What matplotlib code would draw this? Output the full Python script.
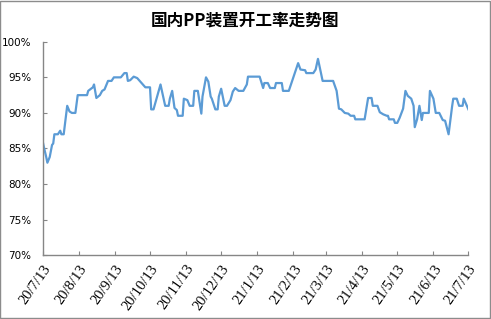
import pandas as pd
import matplotlib
matplotlib.use("Agg")
import matplotlib.pyplot as plt
from matplotlib.ticker import FuncFormatter
from matplotlib.patches import Rectangle

plt.rcParams['font.family'] = ['Noto Sans CJK SC', 'DejaVu Sans']

# PP plant operating rate
dates = ["2020-07-13", "2020-07-14", "2020-07-16", "2020-07-17", "2020-07-19", "2020-07-21",
         "2020-07-22", "2020-07-23", "2020-07-26", "2020-07-28", "2020-07-29", "2020-07-31",
         "2020-08-03", "2020-08-05", "2020-08-07", "2020-08-10", "2020-08-12", "2020-08-20",
         "2020-08-21", "2020-08-25", "2020-08-26", "2020-08-28", "2020-08-31", "2020-09-02",
         "2020-09-04", "2020-09-07", "2020-09-10", "2020-09-12", "2020-09-18", "2020-09-21",
         "2020-09-23", "2020-09-24", "2020-09-26", "2020-09-29", "2020-10-02", "2020-10-09",
         "2020-10-13", "2020-10-14", "2020-10-16", "2020-10-22", "2020-10-26", "2020-10-29",
         "2020-10-30", "2020-11-01", "2020-11-03", "2020-11-05", "2020-11-06", "2020-11-10",
         "2020-11-11", "2020-11-14", "2020-11-16", "2020-11-19", "2020-11-20", "2020-11-23",
         "2020-11-25", "2020-11-26", "2020-11-27", "2020-11-30", "2020-12-02", "2020-12-04",
         "2020-12-05", "2020-12-08", "2020-12-10", "2020-12-11", "2020-12-13", "2020-12-16",
         "2020-12-18", "2020-12-21", "2020-12-23", "2020-12-25", "2020-12-28", "2021-01-01",
         "2021-01-04", "2021-01-05", "2021-01-15", "2021-01-18", "2021-01-19", "2021-01-22",
         "2021-01-24", "2021-01-28", "2021-01-29", "2021-02-03", "2021-02-04", "2021-02-09",
         "2021-02-17", "2021-02-19", "2021-02-23", "2021-02-24", "2021-03-02", "2021-03-04",
         "2021-03-06", "2021-03-10", "2021-03-19", "2021-03-22", "2021-03-24", "2021-03-26",
         "2021-03-29", "2021-04-01", "2021-04-03", "2021-04-06", "2021-04-07", "2021-04-15",
         "2021-04-18", "2021-04-21", "2021-04-22", "2021-04-26", "2021-04-28", "2021-05-01",
         "2021-05-04", "2021-05-05", "2021-05-06", "2021-05-10", "2021-05-11", "2021-05-13",
         "2021-05-15", "2021-05-18", "2021-05-20", "2021-05-22", "2021-05-25", "2021-05-27",
         "2021-05-28", "2021-05-30", "2021-06-01", "2021-06-03", "2021-06-04", "2021-06-09",
         "2021-06-10", "2021-06-13", "2021-06-15", "2021-06-18", "2021-06-21", "2021-06-23",
         "2021-06-26", "2021-06-29", "2021-06-30", "2021-07-03", "2021-07-05", "2021-07-08",
         "2021-07-09", "2021-07-13"]
rate = [86.0, 85.2, 83.8, 83.0, 83.8, 85.5,
        85.7, 87.0, 87.0, 87.5, 87.0, 87.0,
        91.0, 90.2, 90.0, 90.0, 92.5, 92.5,
        93.1, 93.6, 94.0, 92.1, 92.5, 93.1,
        93.3, 94.5, 94.5, 95.0, 95.0, 95.6,
        95.6, 94.5, 94.6, 95.1, 94.9, 93.6,
        93.6, 90.5, 90.5, 94.0, 91.0, 91.0,
        92.0, 93.1, 90.7, 90.4, 89.6, 89.6,
        92.0, 91.8, 91.0, 91.0, 93.1, 93.1,
        91.0, 89.9, 92.3, 95.0, 94.4, 92.3,
        92.0, 90.5, 90.5, 92.3, 93.4, 91.0,
        91.0, 91.8, 93.0, 93.5, 93.1, 93.1,
        94.0, 95.1, 95.1, 93.5, 94.2, 94.2,
        93.5, 93.5, 94.2, 94.2, 93.1, 93.1,
        97.0, 96.1, 96.0, 95.6, 95.6, 96.1,
        97.6, 94.5, 94.5, 93.1, 90.6, 90.5,
        90.0, 89.9, 89.6, 89.6, 89.1, 89.1,
        92.1, 92.1, 91.0, 91.0, 90.1, 89.8,
        89.6, 89.6, 89.1, 89.1, 88.6, 88.6,
        89.3, 90.6, 93.1, 92.4, 92.0, 91.0,
        88.0, 89.1, 91.0, 89.0, 90.0, 90.0,
        93.1, 92.0, 90.0, 90.0, 89.0, 88.9,
        87.0, 90.9, 92.0, 92.0, 91.0, 91.0,
        92.0, 90.5]

tick_dates = ["2020-07-13", "2020-08-13", "2020-09-13", "2020-10-13", "2020-11-13",
              "2020-12-13", "2021-01-13", "2021-02-13", "2021-03-13", "2021-04-13",
              "2021-05-13", "2021-06-13", "2021-07-13"]
tick_labels = ["20/7/13", "20/8/13", "20/9/13", "20/10/13", "20/11/13", "20/12/13",
               "21/1/13", "21/2/13", "21/3/13", "21/4/13", "21/5/13", "21/6/13", "21/7/13"]
y_ticks = [70, 75, 80, 85, 90, 95, 100]

x = pd.to_datetime(dates)
xt = pd.to_datetime(tick_dates)

fig = plt.figure(figsize=(4.91, 3.19), dpi=100)
ax = fig.add_axes([0.087, 0.200, 0.867, 0.669])
ax.plot(x, rate, color='#5B9BD5', lw=1.6)

ax.set_xlim(xt[0], xt[-1])
ax.set_ylim(70, 100)
ax.set_yticks(y_ticks)
ax.yaxis.set_major_formatter(FuncFormatter(lambda v, p: "%d%%" % v))
ax.set_xticks(xt)
ax.set_xticklabels(tick_labels, rotation=55, ha='right', rotation_mode='anchor',
                   family='Liberation Serif', fontsize=10.5)
for t in ax.get_yticklabels():
    t.set_family('DejaVu Sans')
    t.set_fontsize(7.5)

for s in ['top', 'right']:
    ax.spines[s].set_visible(False)
for s in ['left', 'bottom']:
    ax.spines[s].set_color('#868686')
    ax.spines[s].set_linewidth(1.0)
ax.tick_params(axis='both', direction='in', length=3, color='#868686')
ax.tick_params(axis='y', pad=8)
ax.tick_params(axis='x', pad=5)

fig.text(0.5, 0.937, "国内PP装置开工率走势图", ha='center', va='center',
         fontsize=12, fontweight='bold')

fig.patches.append(Rectangle((0.001, 0.002), 0.997, 0.995, transform=fig.transFigure,
                             fill=False, edgecolor='#8c8c8c', lw=1.0))

fig.savefig("out.png", dpi=100)
